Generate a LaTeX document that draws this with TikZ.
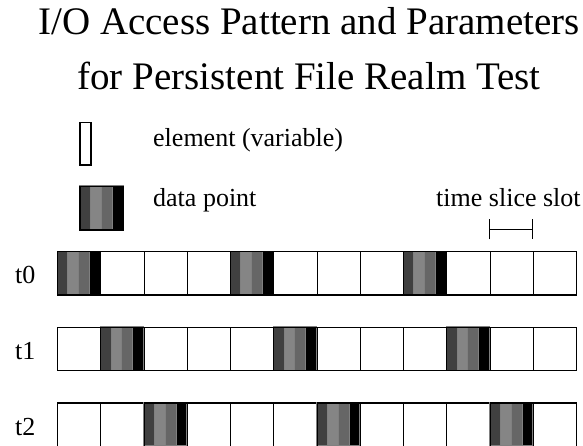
\documentclass[tikz,border=0pt]{standalone}
\usepackage{fontspec}
\setmainfont{Liberation Serif}
\usetikzlibrary{arrows.meta}
\definecolor{stripeA}{gray}{0.25}
\definecolor{stripeB}{gray}{0.52}
\definecolor{stripeC}{gray}{0.40}
\definecolor{stripeD}{gray}{0.0}
% striped block: four equal stripes of graded grey
\newcommand{\datastripes}[4]{%
  \pgfmathsetmacro{\sw}{#3/4}%
  \filldraw[stripe, fill=stripeA] (#1,#2) rectangle ++(\sw,#4);
  \filldraw[stripe, fill=stripeB] (#1+\sw,#2) rectangle ++(\sw,#4);
  \filldraw[stripe, fill=stripeC] (#1+2*\sw,#2) rectangle ++(\sw,#4);
  \filldraw[stripe, fill=stripeD] (#1+3*\sw,#2) rectangle ++(\sw,#4);
}
\begin{document}
\begin{tikzpicture}[x=1pt,y=-1pt,
  slotbox/.style={draw=black, line width=1.2pt, rectangle, inner sep=0pt,
    minimum width=43.25pt, minimum height=43.3pt, anchor=north west},
  elembox/.style={draw=black, line width=1.2pt, rectangle, inner sep=0pt,
    minimum width=11pt, minimum height=42.6pt, anchor=north west},
  stripe/.style={draw=gray, line width=0.8pt},
  lbl/.style={font=\fontsize{26}{30}\selectfont, inner sep=0pt, anchor=base west},
  ttl/.style={font=\fontsize{39}{44}\selectfont, inner sep=0pt, anchor=base}]
\useasboundingbox (0,0) rectangle (583,445);

% title
\node[ttl] (title1) at (309,34.3) {I/O Access Pattern and Parameters};
\node[ttl] (title2) at (309,89.3) {for Persistent File Realm Test};

% legend
\node[elembox] (legelem) at (79.3,121.7) {};
\node[lbl] (legelemtxt) at (153,146.5) {element (variable)};
\datastripes{79.3}{185.7}{43.6}{43.6}
\node[draw=black, line width=1.2pt, rectangle, inner sep=0pt,
  minimum width=43.6pt, minimum height=43.6pt, anchor=north west] (legdata) at (79.3,185.7) {};
\node[lbl] (legdatatxt) at (153,206) {data point};
\node[lbl] (legslottxt) at (436,206) {time slice slot};
\coordinate (tsl) at (489.3,229.3);
\coordinate (tsr) at (532.6,229.3);
\draw[line width=1pt, {Bar[width=20pt]}-{Bar[width=20pt]}] (tsl) -- (tsr);

% rows t0, t1, t2: twelve slots each, data point shifted one slot per step
\foreach \r/\ytop/\ybase in {0/251/283, 1/326.7/359, 2/402.4/435}{
  \node[lbl] (tlab\r) at (15,\ybase) {t\r};
  \foreach \c in {0,...,11}{
    \pgfmathsetmacro{\xl}{57+43.25*\c}
    \pgfmathtruncatemacro{\m}{mod(\c-\r+4,4)}
    \ifnum\m=0
      \datastripes{\xl}{\ytop}{43.25}{43.3}
    \fi
    \node[slotbox] (r\r c\c) at (\xl,\ytop) {};
  }
}
\end{tikzpicture}
\end{document}
